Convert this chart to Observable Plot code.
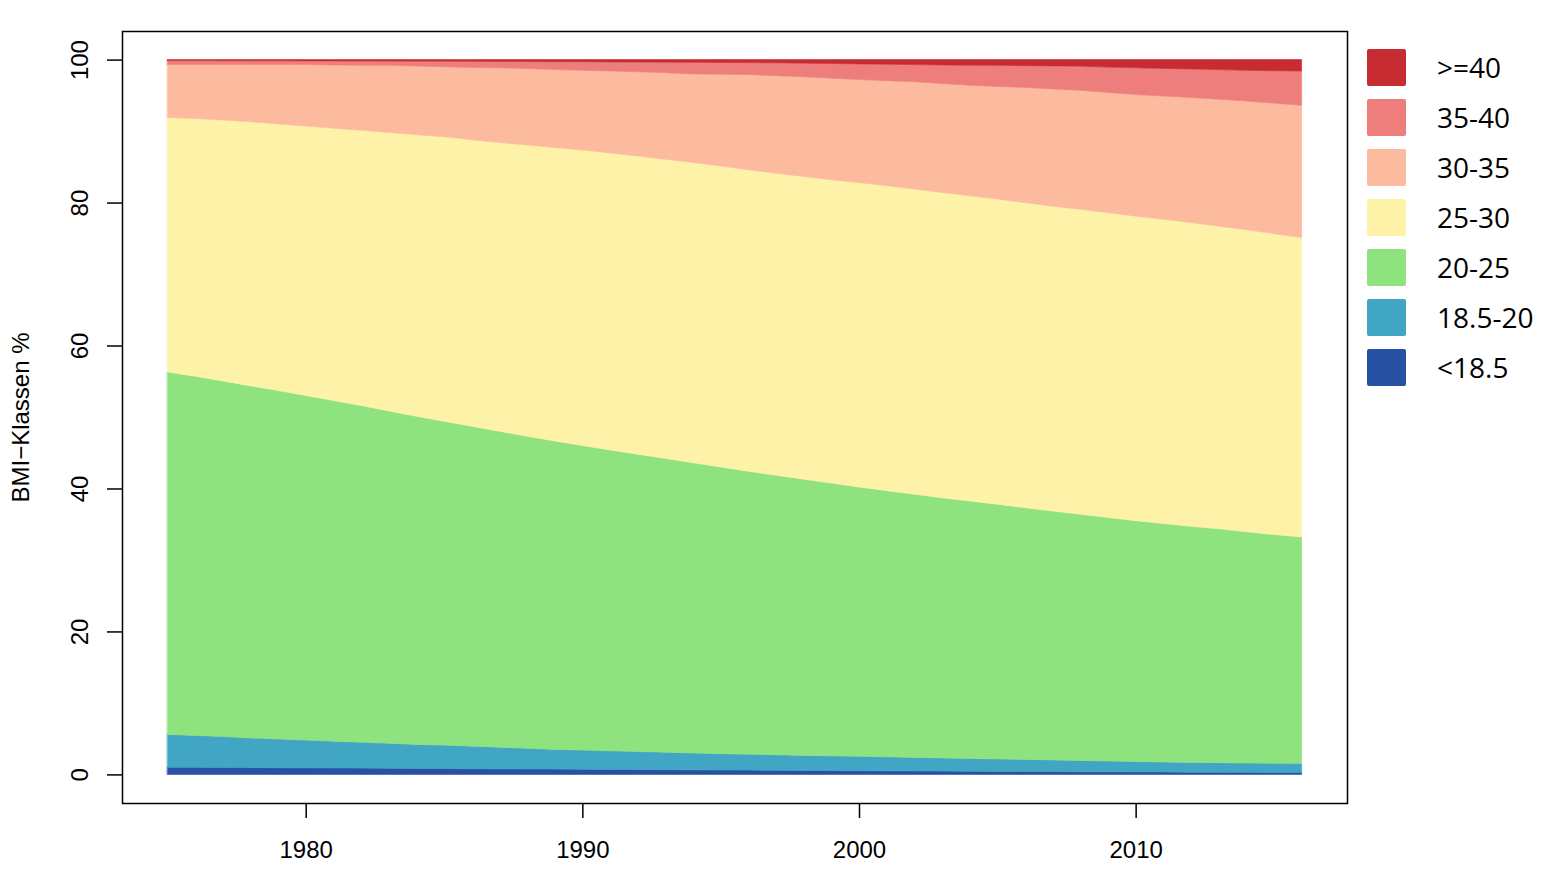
<!DOCTYPE html>
<html>
<head>
<meta charset="utf-8">
<script src="https://cdn.jsdelivr.net/npm/d3@7"></script>
<script src="https://cdn.jsdelivr.net/npm/@observablehq/plot@0.6"></script>
<style>
  html, body { margin: 0; padding: 0; background: #fff; overflow: hidden; }
  #wrap { position: relative; width: 1545px; height: 879px; }
  #legend { position: absolute; left: 1367px; top: 42px; font-family: "Open Sans", "Liberation Sans", sans-serif; font-size: 28px; color: #000; }
  .item { display: flex; align-items: center; height: 50px; }
  .sw { width: 39px; height: 37px; margin-right: 31px; border-radius: 2px; }
</style>
</head>
<body>
<div id="wrap"></div>
<script>
const years = [1975,1976,1977,1978,1979,1980,1981,1982,1983,1984,1985,1986,1987,1988,1989,1990,1991,1992,1993,1994,1995,1996,1997,1998,1999,2000,2001,2002,2003,2004,2005,2006,2007,2008,2009,2010,2011,2012,2013,2014,2015,2016];
const classes = ["<18.5", "18.5-20", "20-25", "25-30", "30-35", "35-40", ">=40"];
const colors = ["#2851A4", "#40A6C4", "#8EE37E", "#FEF1A8", "#FCBA9E", "#EE7E7B", "#C72C33"];
const xTicks = [1980, 1990, 2000, 2010];
const yTicks = [0, 20, 40, 60, 80, 100];

const under185 = [1.0,1.0,0.98,0.95,0.93,0.92,0.9,0.88,0.86,0.84,0.82,0.8,0.78,0.76,0.74,0.72,0.7,0.68,0.66,0.64,0.62,0.6,0.58,0.56,0.54,0.52,0.5,0.48,0.46,0.44,0.42,0.4,0.39,0.37,0.36,0.34,0.33,0.31,0.3,0.29,0.28,0.27];
const c185_20 = [4.6,4.45,4.32,4.15,4.02,3.88,3.75,3.62,3.49,3.36,3.28,3.15,3.02,2.89,2.76,2.68,2.6,2.52,2.44,2.36,2.28,2.22,2.16,2.1,2.06,2.02,1.96,1.9,1.84,1.8,1.74,1.7,1.63,1.59,1.52,1.46,1.41,1.37,1.34,1.31,1.29,1.27];
const c20_25 = [50.7,50.25,49.75,49.25,48.75,48.2,47.65,47.1,46.5,45.9,45.3,44.75,44.2,43.65,43.15,42.6,42.1,41.6,41.1,40.6,40.1,39.58,39.11,38.64,38.15,37.66,37.24,36.82,36.4,36.01,35.64,35.2,34.83,34.44,34.07,33.7,33.36,33.02,32.71,32.35,31.98,31.66];
const c25_30 = [35.6,36.05,36.5,36.95,37.3,37.7,38.1,38.5,38.95,39.4,39.8,40.1,40.4,40.75,41.05,41.35,41.55,41.7,41.85,42.0,42.1,42.2,42.25,42.35,42.45,42.6,42.65,42.7,42.7,42.7,42.7,42.7,42.65,42.65,42.65,42.6,42.55,42.5,42.35,42.25,42.1,41.9];
const c30_35 = [7.4,7.55,7.75,8.0,8.3,8.6,8.85,9.1,9.4,9.6,9.8,10.1,10.45,10.7,10.9,11.15,11.45,11.8,12.1,12.4,12.85,13.3,13.65,13.95,14.2,14.4,14.7,15.0,15.25,15.45,15.75,16.1,16.4,16.65,16.8,17.0,17.25,17.5,17.75,18.0,18.25,18.5];
const c35_40 = [0.57,0.56,0.55,0.54,0.53,0.52,0.56,0.6,0.59,0.68,0.77,0.86,0.89,0.97,1.11,1.2,1.28,1.36,1.49,1.62,1.65,1.68,1.8,1.9,2.05,2.2,2.3,2.4,2.6,2.8,2.95,3.05,3.22,3.38,3.55,3.75,3.87,4.0,4.15,4.3,4.55,4.8];
const over40 = [0.13,0.14,0.15,0.16,0.17,0.18,0.19,0.2,0.21,0.22,0.23,0.24,0.26,0.28,0.29,0.3,0.32,0.34,0.36,0.38,0.4,0.42,0.45,0.5,0.55,0.6,0.65,0.7,0.75,0.8,0.8,0.85,0.88,0.92,1.05,1.15,1.23,1.3,1.4,1.5,1.55,1.6];

const series = [under185, c185_20, c20_25, c25_30, c30_35, c35_40, over40];
const data = [];
classes.forEach((cls, i) => {
  years.forEach((year, j) => data.push({year, cls, value: series[i][j]}));
});

const chart = Plot.plot({
  width: 1545,
  height: 879,
  marginLeft: 122,
  marginRight: 198,
  marginTop: 31,
  marginBottom: 76,
  style: {fontFamily: "'Liberation Sans', Arial, sans-serif", fontSize: "24px", background: "#fff", color: "#000"},
  x: {domain: [1973.36, 2017.64]},
  y: {domain: [-4, 104]},
  color: {domain: classes, range: colors},
  marks: [
    Plot.areaY(data, Plot.stackY({x: "year", y: "value", z: "cls", fill: "cls", stroke: "cls", strokeWidth: 0.6, order: classes, curve: "linear"})),
    Plot.frame({stroke: "#000", strokeWidth: 1.5}),
    Plot.axisX({ticks: xTicks, tickSize: 15, tickPadding: 22, tickFormat: d => String(d), fontSize: 24, label: null, strokeWidth: 1.5}),
    Plot.axisY({ticks: yTicks, tickSize: 15, tickFormat: () => "", label: null, strokeWidth: 1.5}),
    Plot.text(yTicks, {y: d => d, text: d => String(d), frameAnchor: "left", dx: -42, rotate: -90, fontSize: 24, textAnchor: "middle"}),
    Plot.text(["BMI\u2212Klassen %"], {text: d => d, frameAnchor: "left", dx: -101, rotate: -90, fontSize: 24, textAnchor: "middle"})
  ]
});

const wrap = document.getElementById("wrap");
wrap.appendChild(chart);

const legend = document.createElement("div");
legend.id = "legend";
for (let i = classes.length - 1; i >= 0; i--) {
  const item = document.createElement("div");
  item.className = "item";
  const sw = document.createElement("div");
  sw.className = "sw";
  sw.style.background = colors[i];
  const lab = document.createElement("span");
  lab.textContent = classes[i];
  item.appendChild(sw);
  item.appendChild(lab);
  legend.appendChild(item);
}
wrap.appendChild(legend);
</script>
</body>
</html>
